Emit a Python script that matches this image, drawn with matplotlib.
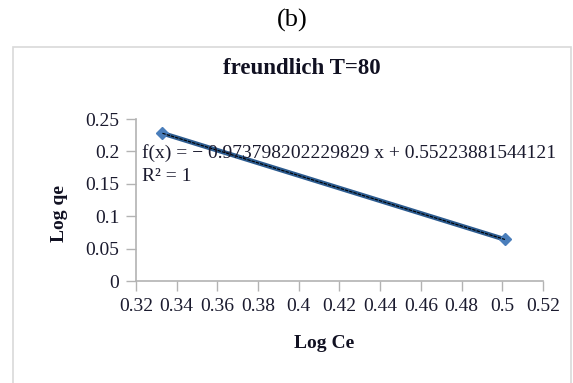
#!/usr/bin/env python3

import matplotlib
matplotlib.use('Agg')
import matplotlib.pyplot as plt
from matplotlib.patches import Rectangle


#------------------------------------------------------------------------------
# Data
#------------------------------------------------------------------------------

log_ce = [0.3330, 0.5013]
log_qe = [0.2280, 0.0641]

slope = -0.973798202229829
intercept = 0.55223881544121

x_ticks = [0.32, 0.34, 0.36, 0.38, 0.40, 0.42, 0.44, 0.46, 0.48, 0.50, 0.52]
x_tick_labels = ['0.32', '0.34', '0.36', '0.38', '0.4', '0.42', '0.44', '0.46', '0.48', '0.5', '0.52']
y_ticks = [0, 0.05, 0.1, 0.15, 0.2, 0.25]
y_tick_labels = ['0', '0.05', '0.1', '0.15', '0.2', '0.25']


#------------------------------------------------------------------------------
# Plot
#------------------------------------------------------------------------------

W, H = 573, 383

plt.rcParams['font.family'] = ['Liberation Serif', 'DejaVu Serif']

fig = plt.figure(figsize=(W / 100, H / 100), dpi=100)

# chart frame
fig.patches.append(Rectangle((13 / W, -0.05), 558 / W, (H - 47) / H + 0.05,
                             transform=fig.transFigure, fill=False,
                             edgecolor='#d9d9d9', linewidth=1.2))

fig.text(292 / W, 1 - 20 / H, '(b)', ha='center', va='center', fontsize=19)

ax = fig.add_axes([136 / W, 102 / H, 407 / W, 162 / H])

ax.plot(log_ce, log_qe, color='#2c5b8f', linewidth=3.4, marker='D', markersize=6.5,
        markerfacecolor='#4a7ebb', markeredgecolor='#4a7ebb', zorder=2)

trend_y = [slope * x + intercept for x in log_ce]
ax.plot(log_ce, trend_y, color='black', linewidth=0.8, linestyle=(0, (3, 1)), zorder=3)

ax.text(0.3228, 0.1975, 'f(x) = \u2212 0.973798202229829 x + 0.55223881544121',
        fontsize=14, va='center', ha='left', color='#1a1a2e', zorder=4)
ax.text(0.3228, 0.162, 'R\u00b2 = 1', fontsize=14, va='center', ha='left',
        color='#1a1a2e', zorder=4)

ax.set_xlim(0.32, 0.52)
ax.set_ylim(0, 0.25)
ax.set_xticks(x_ticks)
ax.set_xticklabels(x_tick_labels)
ax.set_yticks(y_ticks)
ax.set_yticklabels(y_tick_labels)
ax.tick_params(axis='both', labelsize=14, length=7, width=1, color='#b3b3b3',
               labelcolor='#1a1a2e', pad=5)

for side in ['top', 'right']:
    ax.spines[side].set_visible(False)
for side in ['left', 'bottom']:
    ax.spines[side].set_color('#b3b3b3')
    ax.spines[side].set_linewidth(1.2)

fig.text(302 / W, 1 - 68 / H, 'freundlich T=80', ha='center', va='center',
         fontsize=16.5, fontweight='bold', color='#111122')
fig.text(324 / W, 1 - 344 / H, 'Log Ce', ha='center', va='center',
         fontsize=14, fontweight='bold', color='#111122')
fig.text(59 / W, 1 - 213 / H, 'Log qe', ha='center', va='center', rotation=90,
         fontsize=14, fontweight='bold', color='#111122')

plt.savefig('out.png', dpi=100)
plt.close()
